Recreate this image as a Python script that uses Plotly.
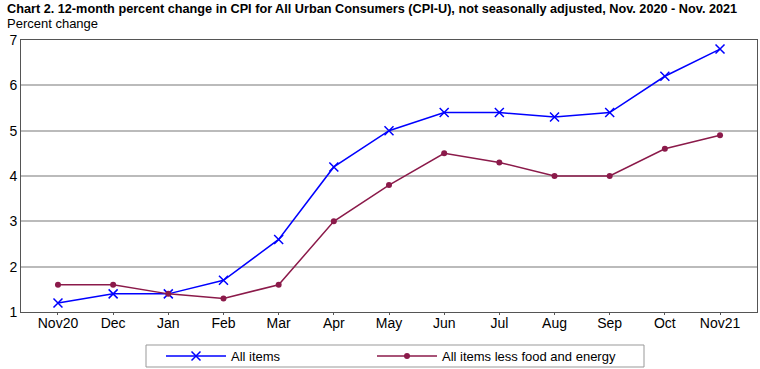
import plotly.graph_objects as go

months = ["Nov20", "Dec", "Jan", "Feb", "Mar", "Apr", "May", "Jun", "Jul", "Aug", "Sep", "Oct", "Nov21"]
all_items = [1.2, 1.4, 1.4, 1.7, 2.6, 4.2, 5.0, 5.4, 5.4, 5.3, 5.4, 6.2, 6.8]
core = [1.6, 1.6, 1.4, 1.3, 1.6, 3.0, 3.8, 4.5, 4.3, 4.0, 4.0, 4.6, 4.9]
y_ticks = [1, 2, 3, 4, 5, 6, 7]

FONT = "Liberation Sans"
xs = list(range(len(months)))
L, R, T, B = 21, 3, 40, 57
W, H = 760, 369
PW = W - L - R
PH = H - T - B


def px_x(x):
    return (x - L) / PW


def px_y(y):
    return (H - B - y) / PH


fig = go.Figure()
fig.add_trace(go.Scatter(
    x=xs, y=all_items, name="All items", mode="lines+markers",
    line=dict(color="#0000FF", width=1.5),
    marker=dict(symbol="x-thin", size=9, line=dict(color="#0000FF", width=1.5), color="#0000FF"),
    legend="legend",
))
fig.add_trace(go.Scatter(
    x=xs, y=core, name="All items less food and energy", mode="lines+markers",
    line=dict(color="#8B1A4A", width=1.5),
    marker=dict(symbol="circle", size=6, color="#8B1A4A"),
    legend="legend2",
))

leg_common = dict(
    orientation="h", xanchor="left", y=px_y(356), yanchor="middle",
    borderwidth=0, bgcolor="rgba(0,0,0,0)", font=dict(size=13, family=FONT),
    itemwidth=60,
)

fig.update_layout(
    width=W, height=H,
    margin=dict(l=L, r=R, t=T, b=B, autoexpand=False),
    paper_bgcolor="white", plot_bgcolor="white",
    font=dict(family=FONT, size=13, color="black"),
    showlegend=True,
    legend=dict(x=px_x(161), **leg_common),
    legend2=dict(x=px_x(372), **leg_common),
    shapes=[
        dict(type="rect", xref="paper", yref="paper",
             x0=px_x(146), x1=px_x(644), y0=px_y(367), y1=px_y(345),
             line=dict(color="#999999", width=1), fillcolor="rgba(0,0,0,0)", layer="below"),
    ],
    annotations=[
        dict(text="<b>Chart 2. 12-month percent change in CPI for All Urban Consumers (CPI-U), not seasonally adjusted, Nov. 2020 - Nov. 2021</b>",
             xref="paper", yref="paper", x=px_x(5), y=px_y(9), xanchor="left", yanchor="middle",
             showarrow=False, font=dict(size=12.7, family=FONT)),
        dict(text="Percent change", xref="paper", yref="paper", x=px_x(5), y=px_y(24),
             xanchor="left", yanchor="middle", showarrow=False, font=dict(size=13, family=FONT)),
    ],
)
fig.update_xaxes(
    range=[-0.67, 12.67], tickmode="array", tickvals=xs, ticktext=months,
    showgrid=False, showline=True, linecolor="#555555", linewidth=1, mirror=True,
    ticks="outside", ticklen=2, tickcolor="#555555", zeroline=False,
    tickfont=dict(size=14), ticklabelstandoff=-4,
)
fig.update_yaxes(
    range=[1, 7], tickmode="array", tickvals=y_ticks,
    showgrid=True, gridcolor="#BBBBBB", gridwidth=1.5,
    showline=True, linecolor="#555555", linewidth=1, mirror=True,
    ticks="", zeroline=False, tickfont=dict(size=14),
)

fig.write_html("out.html", config={"displayModeBar": False},
               post_script="document.body.style.margin='0';document.body.style.overflow='hidden';")
